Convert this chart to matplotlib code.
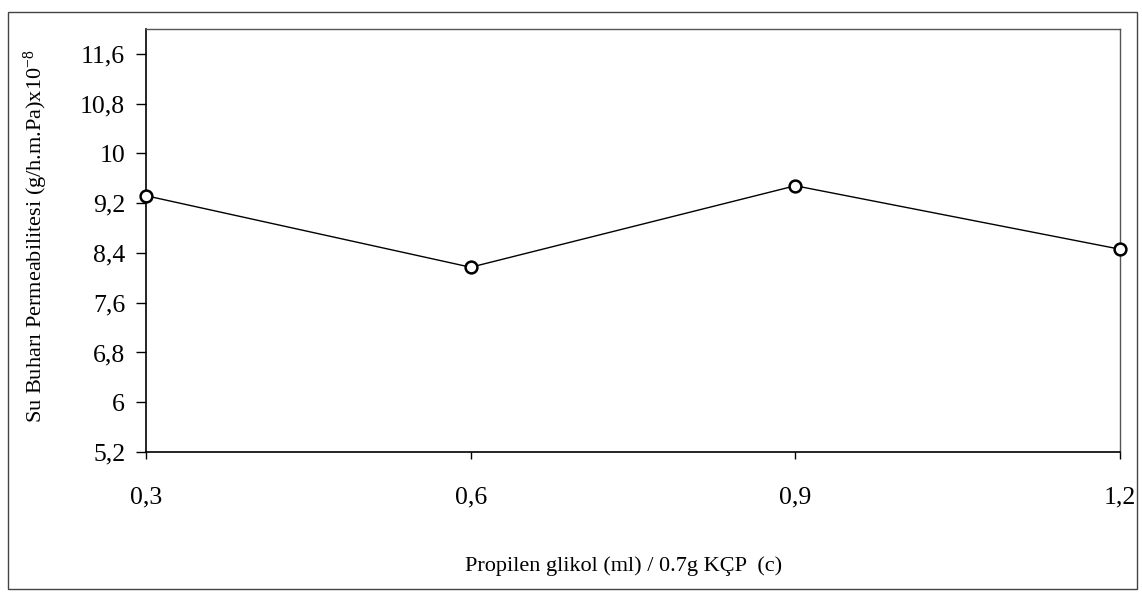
import matplotlib
matplotlib.use("Agg")
import matplotlib.pyplot as plt
from matplotlib.patches import Rectangle

# Data
x_values = [0.3, 0.6, 0.9, 1.2]
x_labels = ["0,3", "0,6", "0,9", "1,2"]
y_values = [9.32, 8.17, 9.48, 8.46]
y_ticks = [5.2, 6.0, 6.8, 7.6, 8.4, 9.2, 10.0, 10.8, 11.6]
y_tick_labels = ["5,2", "6", "6,8", "7,6", "8,4", "9,2", "10", "10,8", "11,6"]
x_title = "Propilen glikol (ml) / 0.7g KÇP  (c)"
y_title = r"Su Buharı Permeabilitesi (g/h.m.Pa)x10$^{\mathdefault{-8}}$"

plt.rcParams['font.family'] = ['Liberation Serif', 'DejaVu Serif']
plt.rcParams['mathtext.fontset'] = 'custom'
plt.rcParams['mathtext.rm'] = 'Liberation Serif'
plt.rcParams['mathtext.it'] = 'Liberation Serif:italic'

fig = plt.figure(figsize=(11.42, 5.93), dpi=100)
ax = fig.add_axes([146/1142, 1-452/593, (1120-146)/1142, (452-29)/593])

ax.plot(x_values, y_values, color='black', linewidth=1.0, marker='o',
        markersize=8.5, markerfacecolor='white', markeredgecolor='black',
        markeredgewidth=1.8, clip_on=False, zorder=3)

ax.set_xlim(0.3, 1.2)
ax.set_ylim(5.2, 12.0)
ax.set_xticks(x_values)
ax.set_xticklabels(x_labels)
ax.set_yticks(y_ticks)
ax.set_yticklabels(y_tick_labels)

ax.tick_params(axis='y', direction='out', length=7, width=1, pad=8,
               labelsize=18.5, colors='black')
ax.tick_params(axis='x', direction='out', length=5, width=1, pad=20,
               labelsize=18.5, colors='black')

for s in ['left', 'bottom']:
    ax.spines[s].set_color('black')
    ax.spines[s].set_linewidth(1.2)
for s in ['top', 'right']:
    ax.spines[s].set_color('#555555')
    ax.spines[s].set_linewidth(1.0)

fig.text(36/1142, 1-236/593, y_title, rotation=90, ha='center', va='center',
         fontsize=16)
fig.text(624/1142, 1-566/593, x_title, ha='center', va='center', fontsize=16)

# outer frame
fig.patches.append(Rectangle((8/1142, 4/593), (1137-8)/1142, (581-4)/593,
                             transform=fig.transFigure, fill=False,
                             edgecolor='#444444', linewidth=1.0))

fig.savefig("out.png", dpi=100)
